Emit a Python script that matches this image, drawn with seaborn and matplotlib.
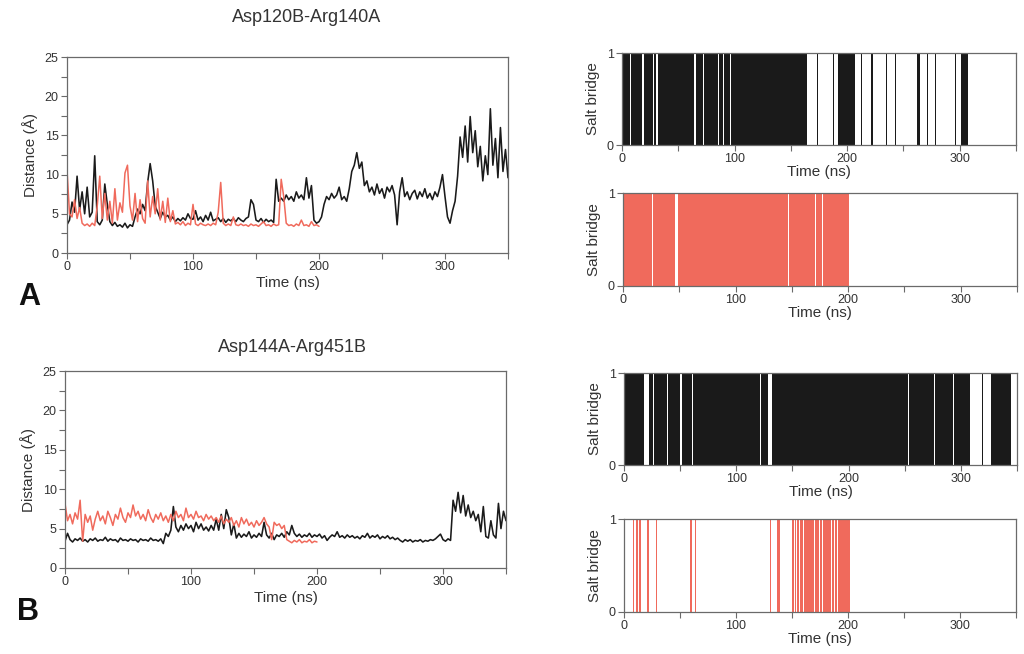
import numpy as np
import pandas as pd
import matplotlib
matplotlib.use("Agg")
import matplotlib.pyplot as plt
from matplotlib.ticker import MultipleLocator, FixedLocator
import seaborn as sns

# ---------------- data ----------------
time_black = list(range(0, 351, 2))
time_red = list(range(0, 201, 2))

dist_A_black = [
    3.6, 4.2, 6.5, 5.2, 9.8, 5.5, 7.8, 5.0, 8.4, 4.6,
    5.2, 12.4, 4.0, 3.6, 4.2, 8.8, 6.2, 4.0, 3.5, 3.9,
    3.4, 3.6, 3.3, 3.8, 3.2, 3.6, 3.4, 4.6, 5.6, 5.0,
    6.2, 5.4, 9.0, 11.4, 9.2, 6.0, 5.2, 4.4, 5.2, 4.6,
    4.8, 4.2, 4.6, 4.0, 4.4, 4.1, 4.5, 4.2, 5.0, 4.4,
    4.3, 5.4, 4.2, 4.6, 4.0, 4.8, 4.2, 5.2, 4.1, 4.3,
    4.5, 4.0, 4.4, 3.9, 4.3, 4.1, 4.4, 4.0, 4.5, 4.2,
    4.0, 4.4, 4.6, 6.8, 6.2, 4.2, 4.0, 4.4, 3.9, 4.3,
    4.0, 4.2, 3.9, 9.4, 6.6, 7.0, 6.6, 7.4, 6.8, 7.2,
    6.6, 7.8, 7.0, 7.4, 6.8, 9.6, 7.0, 8.6, 4.2, 3.8,
    4.0, 4.6, 6.2, 7.2, 6.8, 7.6, 7.0, 7.4, 8.4, 6.8,
    7.2, 6.6, 8.2, 10.4, 11.2, 12.8, 10.8, 11.6, 8.6, 9.2,
    7.8, 8.4, 7.4, 8.8, 7.6, 8.2, 7.0, 8.4, 7.8, 8.6,
    7.4, 3.6, 7.8, 9.6, 7.2, 7.8, 6.8, 7.6, 8.0, 6.9,
    7.8, 7.2, 8.2, 7.0, 7.6, 6.8, 7.8, 7.2, 8.4, 10.0,
    7.2, 4.6, 3.8, 5.4, 6.6, 9.8, 14.8, 12.2, 16.2, 11.6,
    17.4, 12.8, 15.6, 11.0, 13.6, 9.2, 12.4, 10.0, 18.4, 11.2,
    14.6, 9.6, 16.0, 10.4, 13.2, 9.6,
]

dist_A_red = [
    10.6, 5.0, 4.6, 6.8, 4.4, 5.8, 3.8, 3.5, 3.7, 3.4,
    3.8, 3.5, 6.0, 9.8, 4.4, 7.6, 4.2, 6.6, 3.8, 8.2,
    4.2, 6.4, 5.2, 10.2, 11.2, 6.0, 4.2, 7.6, 4.0, 6.8,
    4.4, 3.8, 9.2, 4.6, 7.2, 5.0, 8.2, 4.2, 6.6, 3.9,
    7.0, 4.0, 5.4, 3.7, 3.9, 3.6, 4.0, 3.5, 3.8, 3.6,
    6.2, 3.7, 3.5, 3.8, 3.6, 3.5, 3.7, 3.5, 3.8, 3.6,
    5.2, 9.0, 3.8, 3.5, 3.7, 3.5, 4.6, 3.6, 3.5, 3.7,
    3.5, 3.6, 3.4, 3.7, 3.5, 3.6, 3.4, 3.7, 4.0, 3.5,
    3.6, 3.4, 3.7, 3.5, 3.6, 9.4, 7.2, 3.8, 3.5, 3.6,
    3.4, 3.7, 3.5, 4.2, 3.5, 3.6, 3.4, 4.0, 3.5, 3.6,
    3.4,
]

dist_B_black = [
    3.4, 4.4, 3.6, 3.3, 3.7, 3.5, 3.8, 3.4, 3.6, 3.3,
    3.7, 3.5, 3.8, 3.4, 3.6, 3.5, 3.9, 3.4, 3.7, 3.5,
    3.6, 3.3, 3.8, 3.5, 3.6, 3.4, 3.7, 3.5, 3.6, 3.3,
    3.7, 3.5, 3.6, 3.4, 3.8, 3.5, 3.6, 3.4, 3.7, 3.1,
    4.4, 4.0, 4.8, 7.8, 5.2, 4.6, 5.4, 4.8, 5.6, 5.0,
    5.4, 4.6, 5.8, 5.0, 5.6, 4.8, 5.2, 4.7, 5.4, 4.8,
    6.2, 4.8, 6.8, 5.0, 7.4, 6.4, 4.2, 5.6, 3.8, 4.4,
    3.9, 4.3, 4.0, 4.6, 3.8, 4.2, 3.9, 4.4, 4.0, 5.8,
    4.2, 3.8, 4.4, 3.6, 4.2, 4.0, 4.4, 3.9, 4.6, 4.2,
    5.4, 4.4, 4.0, 4.3, 3.9, 4.2, 4.0, 4.4, 3.9, 4.2,
    4.0, 4.3, 3.8, 4.1, 3.5, 3.9, 4.2, 4.0, 4.6, 3.9,
    4.1, 3.8, 4.2, 3.9, 4.1, 3.8, 4.0, 3.7, 4.1, 3.9,
    4.4, 3.8, 4.1, 3.9, 4.2, 3.7, 4.0, 3.8, 4.1, 3.7,
    3.9, 3.6, 3.8, 3.5, 3.3, 3.6, 3.4, 3.6, 3.3, 3.5,
    3.4, 3.6, 3.3, 3.5, 3.4, 3.6, 3.5, 3.7, 4.0, 4.3,
    3.6, 3.4, 3.7, 3.5, 8.6, 7.2, 9.6, 7.0, 9.2, 6.6,
    8.0, 6.4, 7.2, 6.0, 6.8, 4.6, 7.8, 4.0, 3.8, 6.0,
    4.2, 3.8, 8.2, 5.0, 7.2, 6.0,
]

dist_B_red = [
    8.2, 6.0, 6.8, 5.6, 7.0, 6.2, 8.6, 3.4, 6.8, 5.8,
    6.6, 4.8, 6.2, 7.2, 6.0, 6.6, 5.6, 7.2, 6.4, 5.4,
    6.8, 6.2, 7.6, 6.4, 5.8, 7.0, 6.4, 8.0, 6.6, 7.2,
    6.2, 6.8, 6.0, 7.4, 6.4, 5.8, 6.8, 6.2, 7.0, 6.0,
    6.6, 5.8, 6.8, 6.0, 7.2, 6.4, 6.8, 6.0, 7.6, 6.4,
    6.8, 6.2, 7.2, 6.4, 6.6, 6.0, 6.8, 6.2, 6.6, 6.0,
    6.4, 5.8, 6.6, 5.6, 6.2, 5.8, 6.4, 5.4, 6.0, 5.2,
    6.4, 5.6, 6.2, 5.4, 5.8, 5.2, 6.0, 5.4, 5.8, 6.4,
    5.6, 5.2, 3.6, 5.8, 5.4, 5.6, 5.0, 5.4, 3.6, 3.4,
    3.2, 3.5, 3.3, 3.6, 3.2, 3.4, 3.3, 3.6, 3.2, 3.4,
    3.3,
]

# salt-bridge "formed" intervals (start ns, end ns)
bridge_A_black = [
    (0, 7.0), (7.6, 18.2), (19.8, 27.4), (28.4, 30.6), (31.6, 63.6),
    (65.6, 66.6), (67.0, 72.0), (72.8, 77.0), (77.6, 85.4), (86.2, 90.0),
    (90.8, 93.0), (93.6, 96.0), (96.6, 164.0), (173.4, 174.4), (187.0, 188.2),
    (191.6, 207.4), (212.6, 213.6), (221.6, 222.6), (234.6, 235.6),
    (242.6, 243.6), (262.0, 264.4), (270.6, 271.6), (277.8, 278.8),
    (295.6, 297.0), (301.0, 307.6),
]
bridge_A_red = [
    (0, 26.2), (27.0, 46.2), (48.6, 146.6), (147.4, 156.8),
    (157.4, 170.6), (171.6, 177.2), (178.0, 201.0),
]
bridge_B_black = [
    (0, 17.6), (22.0, 26.0), (26.8, 38.6), (39.4, 43.4), (44.0, 47.0),
    (47.6, 50.0), (51.8, 61.0), (61.8, 64.8), (65.4, 121.0), (122.0, 128.0),
    (132.0, 211.6), (212.4, 253.2), (253.8, 269.6), (270.2, 276.0),
    (276.6, 293.4), (294.0, 307.8), (318.6, 319.6), (326.8, 344.6),
]
bridge_B_red = [
    (0, 1.0), (7.8, 8.8), (11.0, 12.4), (13.0, 15.2), (20.4, 22.0),
    (28.6, 29.6), (59.0, 61.0), (63.4, 64.4), (130.2, 131.2), (137.0, 139.6),
    (150.0, 151.6), (152.4, 153.8), (154.6, 156.0), (156.8, 160.0),
    (160.8, 163.0), (163.6, 170.0), (170.6, 174.4), (175.2, 177.0),
    (177.6, 184.8), (185.6, 187.6), (188.4, 190.6), (191.2, 194.2),
    (194.8, 201.6),
]

titles = ["Asp120B-Arg140A", "Asp144A-Arg451B"]
panel_letters = ["A", "B"]

# ---------------- style ----------------
sns.set_theme(style="ticks")
plt.rcParams["font.family"] = ["Liberation Sans", "DejaVu Sans"]

BLACK = "#1a1a1a"
RED = "#f06a5c"
SPINE = "#6a6a6a"
TXT = "#333333"

fig = plt.figure(figsize=(10.24, 6.54), dpi=100)
W, H = 1024, 654


def axes_px(x0, y0, x1, y1):
    return fig.add_axes([x0 / W, 1 - y1 / H, (x1 - x0) / W, (y1 - y0) / H])


def style_axes(ax):
    for s in ax.spines.values():
        s.set_color(SPINE)
        s.set_linewidth(0.9)
    ax.tick_params(which="both", direction="out", color=SPINE, width=0.8,
                   labelcolor=TXT, labelsize=9, pad=2)
    ax.tick_params(which="major", length=4)
    ax.tick_params(which="minor", length=4)
    ax.set_xlim(0, 350)
    ax.xaxis.set_major_locator(FixedLocator([0, 100, 200, 300]))
    ax.xaxis.set_minor_locator(FixedLocator([50, 150, 250, 350]))


def dist_panel(ax, black, red):
    df_b = pd.DataFrame({"t": time_black, "d": black})
    df_r = pd.DataFrame({"t": time_red, "d": red})
    sns.lineplot(data=df_b, x="t", y="d", ax=ax, color=BLACK, linewidth=1.15,
                 estimator=None)
    sns.lineplot(data=df_r, x="t", y="d", ax=ax, color=RED, linewidth=1.1,
                 estimator=None)
    style_axes(ax)
    ax.set_ylim(0, 25)
    ax.yaxis.set_major_locator(MultipleLocator(5))
    ax.yaxis.set_minor_locator(MultipleLocator(2.5))
    ax.set_xlabel("Time (ns)", fontsize=11, color=TXT, labelpad=2)
    ax.set_ylabel("Distance (Å)", fontsize=11, color=TXT, labelpad=5)


def bridge_panel(ax, intervals, color):
    starts = [a for a, b in intervals]
    widths = [b - a for a, b in intervals]
    ax.bar(starts, [1] * len(starts), width=widths, align="edge",
           color=color, linewidth=0)
    style_axes(ax)
    ax.set_ylim(0, 1)
    ax.yaxis.set_major_locator(FixedLocator([0, 1]))
    ax.yaxis.set_minor_locator(FixedLocator([]))
    ax.set_xlabel("Time (ns)", fontsize=11, color=TXT, labelpad=0)
    ax.set_ylabel("Salt bridge", fontsize=11, color=TXT, labelpad=5)


ax1 = axes_px(67, 57, 508, 253)
dist_panel(ax1, dist_A_black, dist_A_red)
ax2 = axes_px(65, 371, 506, 568)
dist_panel(ax2, dist_B_black, dist_B_red)

r1 = axes_px(622, 53, 1016, 145)
bridge_panel(r1, bridge_A_black, BLACK)
r2 = axes_px(623, 193, 1017, 286)
bridge_panel(r2, bridge_A_red, RED)
r3 = axes_px(624, 373, 1017, 465)
bridge_panel(r3, bridge_B_black, BLACK)
r4 = axes_px(624, 519, 1016, 612)
bridge_panel(r4, bridge_B_red, RED)

fig.text(307 / W, 1 - 18 / H, titles[0], ha="center", va="center",
         fontsize=13, color=TXT)
fig.text(292 / W, 1 - 347 / H, titles[1], ha="center", va="center",
         fontsize=13, color=TXT)
fig.text(29 / W, 1 - 297 / H, panel_letters[0], ha="center", va="center",
         fontsize=22, fontweight="bold", color="#111111")
fig.text(28 / W, 1 - 612 / H, panel_letters[1], ha="center", va="center",
         fontsize=22, fontweight="bold", color="#111111")

fig.savefig("out.png", dpi=100)
